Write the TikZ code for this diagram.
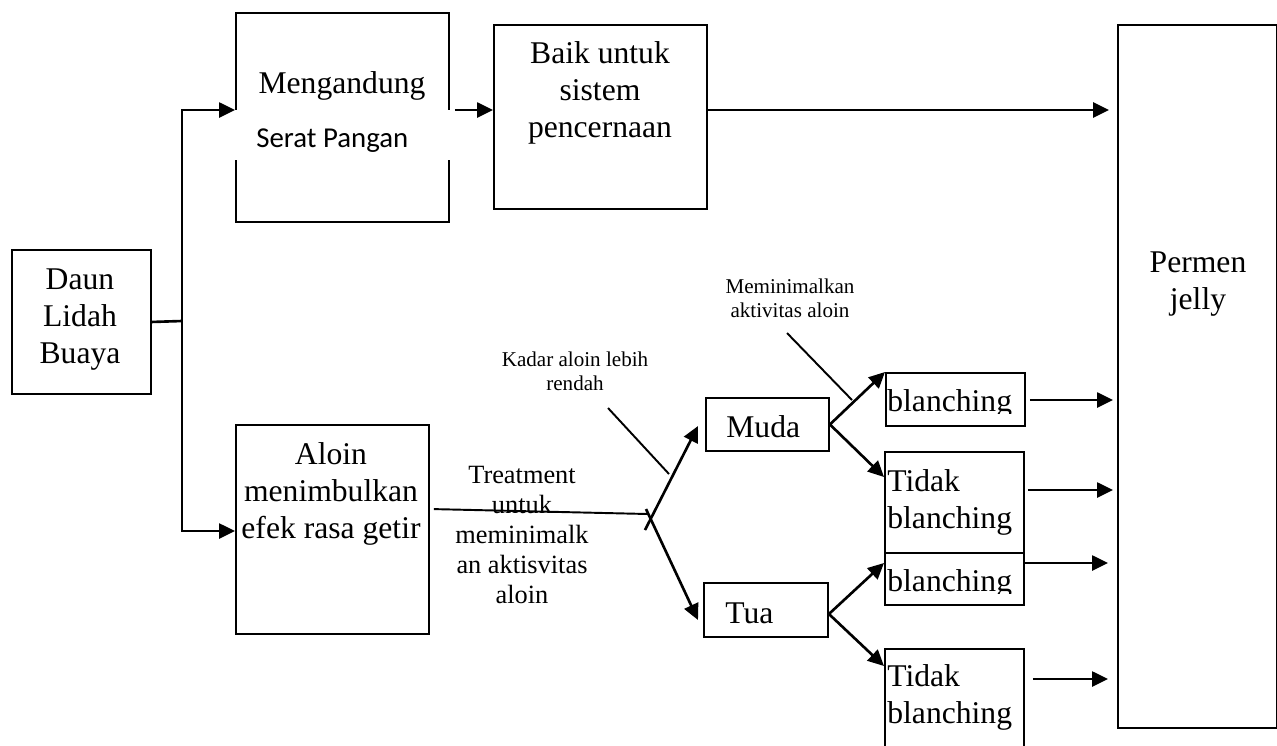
\documentclass[tikz,border=0pt]{standalone}
\usepackage{fontspec}
\setmainfont{Liberation Serif}
\newfontfamily\calibrifont{Carlito}
\usetikzlibrary{arrows.meta}

\begin{document}
\begin{tikzpicture}[x=0.02cm,y=-0.02cm]
	\tikzset{
	box/.style 	= {draw, line width=1.1pt, inner sep=0pt, anchor=north west},
	wire/.style 	= {line width=1.5pt},
	arrow/.style 	= {wire, -{Triangle[length=0.32cm,width=0.3cm]}},
	pointer/.style 	= {line width=1.1pt},
	big/.style 	= {font=\fontsize{18}{21}\selectfont, align=center, inner sep=0pt, anchor=base},
	bigleft/.style 	= {big, align=left, anchor=base west},
	mid/.style 	= {font=\fontsize{15}{17}\selectfont, align=center, inner sep=0pt, anchor=base},
	small/.style 	= {font=\fontsize{12}{13.6}\selectfont, align=center, inner sep=0pt, anchor=base},
	serat/.style 	= {font=\calibrifont\fontsize{16.4}{19}\selectfont, inner sep=0pt, anchor=base west}}
	
	\path[use as bounding box, clip] (0,0) rectangle (1277,745);
	
	\node[box, minimum width=2.78cm, minimum height=2.88cm] (daun) at (11,249) {};
	\node[box, minimum width=4.26cm, minimum height=4.18cm] (meng) at (235,12) {};
	\node[box, minimum width=4.26cm, minimum height=3.68cm] (baik) at (493,24) {};
	\node[box, minimum width=3.18cm, minimum height=14.06cm] (permen) at (1117,24) {};
	\node[box, minimum width=3.86cm, minimum height=4.18cm] (aloin) at (235,424) {};
	
	\node[box, minimum width=2.46cm, minimum height=1.06cm] (muda) at (705,397) {};
	\node[box, minimum width=2.48cm, minimum height=1.08cm] (tua) at (703,582) {};
	
	\node[box, minimum width=2.78cm, minimum height=1.06cm] (blanA) at (885,372) {};
	\node[box, minimum width=2.78cm, minimum height=2.02cm] (tidakA) at (884,451) {};
	\node[box, minimum width=2.78cm, minimum height=1.04cm] (blanB) at (884,552) {};
	\node[box, minimum width=2.78cm, minimum height=2.4cm] (tidakB) at (884,648) {};
	
	% texts (base = last line)
	\node[big] (daunT) at (80,363) {Daun\\Lidah\\Buaya};
	\node[big] (mengT) at (342,93) {Mengandung};
	\fill[white] (232,110) rectangle (452,160);
	\begin{scope}
		\clip (232,110) rectangle (452,151);
		\node[serat] (seratT) at (256,147) {Serat Pangan};
	\end{scope}
	\node[big] (baikT) at (600,137) {Baik untuk\\sistem\\pencernaan};
	\node[big] (permenT) at (1198,309) {Permen\\jelly};
	\node[big] (aloinT) at (331,538) {Aloin\\menimbulkan\\efek rasa getir};
	
	\node[mid] (treatT) at (522,603) {Treatment\\untuk\\meminimalk\\an aktisvitas\\aloin};
	\node[small] (kadarT) at (575,390) {Kadar aloin lebih\\rendah};
	\node[small] (minT) at (790,317) {Meminimalkan\\aktivitas aloin};
	
	\node[bigleft] (mudaT) at (726,437) {Muda};
	\node[bigleft] (tuaT) at (725,623) {Tua};
	\begin{scope}
		\clip (885,372) rectangle (1024,413);
		\node[bigleft] (blanAT) at (887,411) {blanching};
	\end{scope}
	\node[bigleft] (tidakAT) at (887,528) {Tidak\\blanching};
	\begin{scope}
		\clip (884,552) rectangle (1023,593);
		\node[bigleft] (blanBT) at (887,591) {blanching};
	\end{scope}
	\node[bigleft] (tidakBT) at (887,723) {Tidak\\blanching};
	
	% connectors
	\coordinate (jmid) at (182,321);
	\coordinate (jtop) at (182,110);
	\coordinate (jbot) at (182,531);
	\draw[wire] (daun.east) -- (jmid);
	\draw[arrow] (jmid) |- (meng.west |- jtop);
	\draw[arrow] (jmid) |- (aloin.west |- jbot);
	
	\draw[arrow, shorten <=0.1cm] (meng.east |- jtop) -- (baik.west |- jtop);
	\draw[arrow, shorten >=0.16cm] (baik.east |- jtop) -- (permen.west |- jtop);
	
	\coordinate (fork) at (648,514);
	\coordinate (forkA) at (645,530);
	\coordinate (forkB) at (646,509);
	\coordinate (mudaIn) at (698,426);
	\coordinate (tuaIn) at (698,620);
	\draw[pointer, shorten <=0.08cm] (aloin.east |- 0,509) -- (fork);
	\draw[arrow] (forkA) -- (mudaIn);
	\draw[arrow] (forkB) -- (tuaIn);
	
	\coordinate (kadarA) at (608,408);
	\coordinate (kadarB) at (669,474);
	\coordinate (minA) at (787,333);
	\coordinate (minB) at (852,400);
	\draw[pointer] (kadarA) -- (kadarB);
	\draw[pointer] (minA) -- (minB);
	
	\draw[arrow] (muda.east) -- (blanA.north west);
	\draw[arrow] (muda.east) -- (tidakA.west |- 0,477);
	\draw[arrow] (tua.east |- 0,614) -- (blanB.west |- 0,563);
	\draw[arrow] (tua.east |- 0,614) -- (tidakB.west |- 0,666);
	
	\draw[arrow, shorten <=0.08cm, shorten >=0.08cm] (blanA.east |- 0,400) -- (permen.west |- 0,400);
	\draw[arrow, shorten <=0.06cm, shorten >=0.08cm] (tidakA.east |- 0,490) -- (permen.west |- 0,490);
	\draw[arrow, shorten >=0.18cm] (blanB.east |- 0,563) -- (permen.west |- 0,563);
	\draw[arrow, shorten <=0.16cm, shorten >=0.18cm] (tidakB.east |- 0,679) -- (permen.west |- 0,679);
	
\end{tikzpicture}
\end{document}
